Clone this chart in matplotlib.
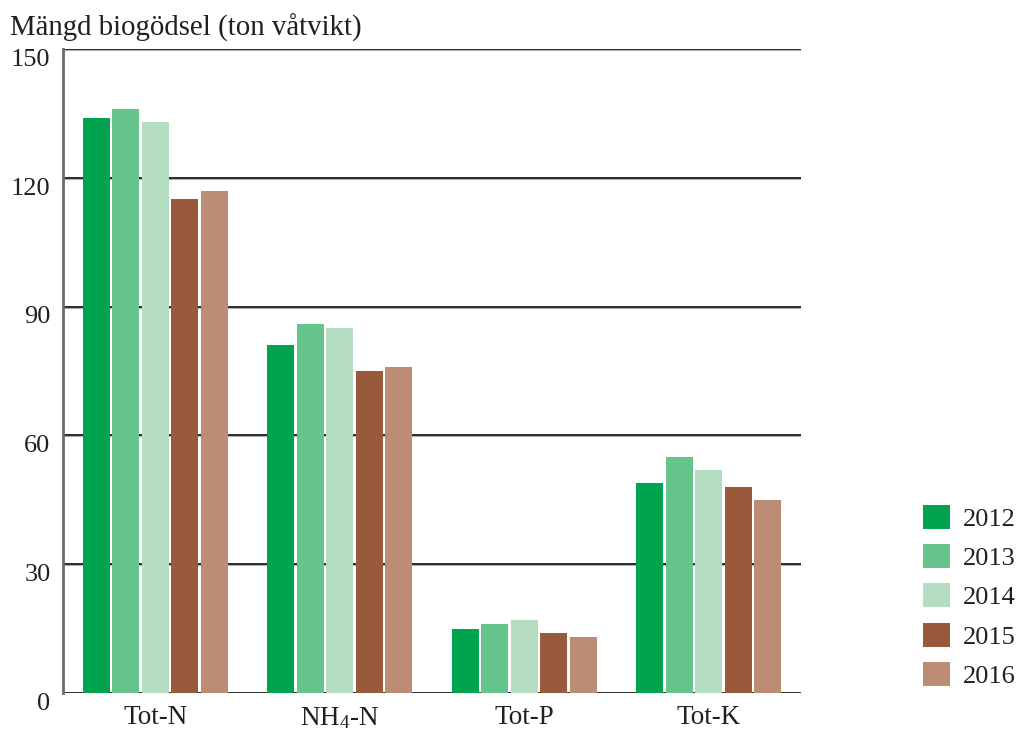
import numpy as np
import matplotlib.pyplot as plt
from matplotlib.patches import Patch
from matplotlib.transforms import ScaledTranslation

plt.rcParams['font.family'] = ['Liberation Serif', 'DejaVu Serif']
plt.rcParams['mathtext.fontset'] = 'custom'
plt.rcParams['mathtext.rm'] = 'Liberation Serif'
plt.rcParams['mathtext.it'] = 'Liberation Serif:italic'

# Mängd näring i biogödseln per år
kategorier = ["Tot-N", "NH$_4$-N", "Tot-P", "Tot-K"]
ar = ["2012", "2013", "2014", "2015", "2016"]
v2012 = [134, 81, 15, 49]
v2013 = [136, 86, 16, 55]
v2014 = [133, 85, 17, 52]
v2015 = [115, 75, 14, 48]
v2016 = [117, 76, 13, 45]
yticks = [0, 30, 60, 90, 120, 150]

serier = [v2012, v2013, v2014, v2015, v2016]
farger = ["#00a450", "#66c38c", "#b4ddc1", "#985a3a", "#bc8d74"]
textfarg = "#231f20"

fig = plt.figure(figsize=(10.23, 7.33), dpi=100)
ax = fig.add_axes([0.0616, 0.0546, 0.7214, 0.8786])

x = np.arange(len(kategorier))
steg = 0.16
bredd = 0.146
for i, (vals, farg) in enumerate(zip(serier, farger)):
    ax.bar(x + (i - 2) * steg, vals, width=bredd, color=farg, zorder=3)

ax.set_xlim(-0.5, 3.5)
ax.set_ylim(0, 150)
ax.set_yticks(yticks)
ax.set_yticklabels([str(t) for t in yticks], fontsize=19, color=textfarg)
ax.set_xticks(x)
ax.set_xticklabels(kategorier, fontsize=19.5, color=textfarg)
ax.tick_params(axis='both', length=0)
ax.tick_params(axis='y', pad=9)
ax.tick_params(axis='x', pad=9)

# tick labels sit a bit under their lines
for lab in ax.get_yticklabels():
    lab.set_transform(lab.get_transform() + ScaledTranslation(0, -6 / 72, fig.dpi_scale_trans))

for t in yticks:
    ax.axhline(t, color="#2b2b2b", lw=1.4, zorder=2)
    ax.axhline(t - 0.25, color="#b0b0b0", lw=0.8, zorder=1)

for s in ["top", "right", "bottom"]:
    ax.spines[s].set_visible(False)
ax.spines["left"].set_color("#6a6a6a")
ax.spines["left"].set_linewidth(2)

fig.text(0.0098, 1 - 28 / 733, "Mängd biogödsel (ton våtvikt)", fontsize=20.8,
         color=textfarg, va='center', ha='left')

handles = [Patch(facecolor=f, edgecolor='none') for f in farger]
fig.legend(handles, ar, loc='upper left', bbox_to_anchor=(923 / 1023, 1 - 505 / 733),
           frameon=False, fontsize=19, handlelength=1.02, handleheight=1.02,
           labelspacing=0.5, handletextpad=0.5, borderpad=0, borderaxespad=0,
           labelcolor=textfarg)

fig.savefig("out.png", dpi=100)
